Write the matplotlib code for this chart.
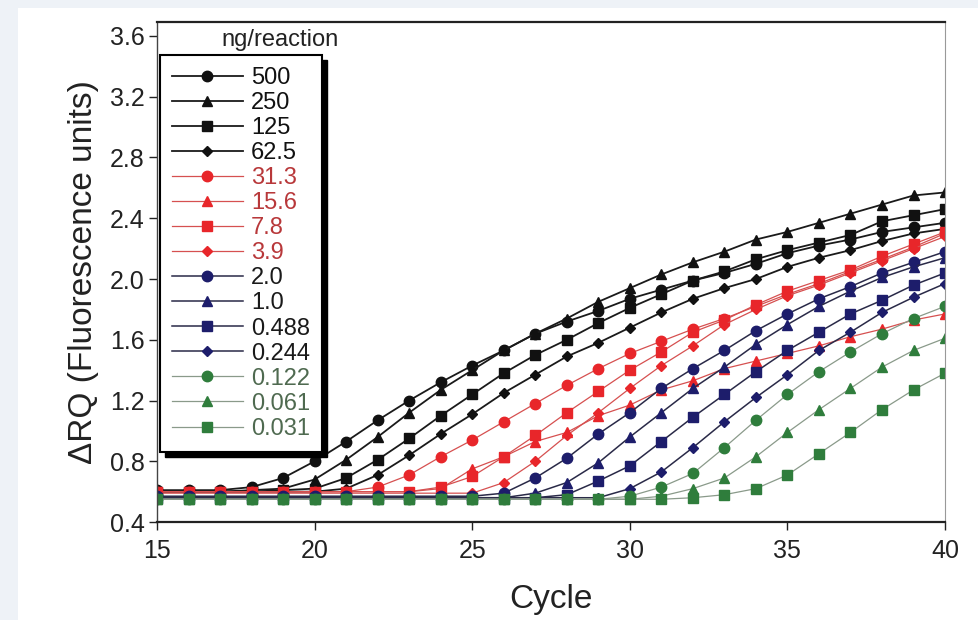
import matplotlib
matplotlib.use('Agg')
import matplotlib.pyplot as plt
from matplotlib.patches import Rectangle
from matplotlib.transforms import IdentityTransform

plt.rcParams['font.family'] = ['Liberation Sans', 'DejaVu Sans']

cycles = list(range(15, 41))

labels = ['500', '250', '125', '62.5', '31.3', '15.6', '7.8', '3.9',
          '2.0', '1.0', '0.488', '0.244', '0.122', '0.061', '0.031']

s500 = [0.61, 0.61, 0.61, 0.63, 0.69, 0.80, 0.93, 1.07, 1.20, 1.32, 1.43, 1.53, 1.64,
        1.72, 1.79, 1.87, 1.93, 1.99, 2.04, 2.10, 2.17, 2.22, 2.26, 2.31, 2.34, 2.37]
s250 = [0.60, 0.60, 0.60, 0.61, 0.62, 0.68, 0.81, 0.96, 1.12, 1.27, 1.40, 1.53, 1.64,
        1.74, 1.85, 1.94, 2.03, 2.11, 2.18, 2.26, 2.31, 2.37, 2.43, 2.49, 2.55, 2.57]
s125 = [0.60, 0.60, 0.60, 0.60, 0.61, 0.62, 0.69, 0.81, 0.95, 1.10, 1.24, 1.38, 1.50,
        1.60, 1.71, 1.81, 1.90, 1.99, 2.05, 2.13, 2.19, 2.24, 2.29, 2.38, 2.42, 2.46]
s62 = [0.60, 0.60, 0.60, 0.60, 0.60, 0.60, 0.62, 0.71, 0.84, 0.98, 1.11, 1.25, 1.37,
       1.49, 1.58, 1.68, 1.78, 1.87, 1.94, 2.00, 2.08, 2.14, 2.19, 2.25, 2.30, 2.33]
r31 = [0.60, 0.60, 0.60, 0.60, 0.60, 0.60, 0.60, 0.63, 0.71, 0.83, 0.94, 1.06, 1.18,
       1.30, 1.41, 1.51, 1.59, 1.67, 1.74, 1.82, 1.90, 1.97, 2.05, 2.13, 2.21, 2.30]
r15 = [0.60, 0.60, 0.60, 0.60, 0.60, 0.60, 0.60, 0.60, 0.60, 0.62, 0.75, 0.83, 0.93,
       0.99, 1.10, 1.17, 1.27, 1.33, 1.41, 1.46, 1.51, 1.56, 1.62, 1.67, 1.73, 1.77]
r7 = [0.60, 0.60, 0.60, 0.60, 0.60, 0.60, 0.60, 0.60, 0.60, 0.63, 0.70, 0.83, 0.97,
      1.12, 1.26, 1.40, 1.52, 1.65, 1.73, 1.83, 1.92, 1.99, 2.06, 2.15, 2.23, 2.31]
r3 = [0.59, 0.59, 0.59, 0.59, 0.59, 0.59, 0.59, 0.59, 0.59, 0.59, 0.59, 0.66, 0.80,
      0.97, 1.12, 1.28, 1.43, 1.56, 1.70, 1.80, 1.89, 1.96, 2.04, 2.12, 2.20, 2.28]
n2 = [0.57, 0.57, 0.57, 0.57, 0.57, 0.57, 0.57, 0.57, 0.57, 0.57, 0.57, 0.59, 0.69,
      0.82, 0.98, 1.12, 1.28, 1.41, 1.53, 1.66, 1.77, 1.87, 1.95, 2.04, 2.11, 2.18]
n1 = [0.56, 0.56, 0.56, 0.56, 0.56, 0.56, 0.56, 0.56, 0.56, 0.56, 0.56, 0.56, 0.59,
      0.66, 0.79, 0.96, 1.12, 1.28, 1.42, 1.57, 1.70, 1.82, 1.92, 2.01, 2.08, 2.14]
n488 = [0.56, 0.56, 0.56, 0.56, 0.56, 0.56, 0.56, 0.56, 0.56, 0.56, 0.56, 0.56, 0.56,
        0.58, 0.67, 0.77, 0.93, 1.09, 1.24, 1.39, 1.53, 1.65, 1.77, 1.86, 1.96, 2.04]
n244 = [0.56, 0.56, 0.56, 0.56, 0.56, 0.56, 0.56, 0.56, 0.56, 0.56, 0.56, 0.56, 0.56,
        0.56, 0.56, 0.62, 0.73, 0.89, 1.06, 1.22, 1.37, 1.53, 1.65, 1.78, 1.88, 1.97]
g122 = [0.55, 0.55, 0.55, 0.55, 0.55, 0.55, 0.55, 0.55, 0.55, 0.55, 0.55, 0.55, 0.55,
        0.55, 0.55, 0.57, 0.63, 0.72, 0.89, 1.07, 1.24, 1.39, 1.52, 1.64, 1.74, 1.82]
g061 = [0.55, 0.55, 0.55, 0.55, 0.55, 0.55, 0.55, 0.55, 0.55, 0.55, 0.55, 0.55, 0.55,
        0.55, 0.55, 0.55, 0.57, 0.62, 0.69, 0.83, 0.99, 1.14, 1.28, 1.42, 1.53, 1.61]
g031 = [0.55, 0.55, 0.55, 0.55, 0.55, 0.55, 0.55, 0.55, 0.55, 0.55, 0.55, 0.55, 0.55,
        0.55, 0.55, 0.55, 0.55, 0.56, 0.58, 0.62, 0.71, 0.85, 0.99, 1.14, 1.27, 1.38]

series = [s500, s250, s125, s62, r31, r15, r7, r3, n2, n1, n488, n244, g122, g061, g031]

# style per group: black, red, navy, green
markers = ['o', '^', 's', 'D'] * 3 + ['o', '^', 's']
msizes = {'o': 7.5, '^': 7.5, 's': 7.3, 'D': 4.8}
mcol = ['#111111'] * 4 + ['#e8262a'] * 4 + ['#1d1d6b'] * 4 + ['#2f7d3c'] * 3
lcol = ['#1a1a1a'] * 4 + ['#d65050'] * 4 + ['#2a2a48'] * 4 + ['#8a9a8a'] * 3
lw = [1.3] * 4 + [0.9] * 4 + [1.1] * 4 + [0.9] * 3
tcol = ['#111111'] * 4 + ['#b8383a'] * 4 + ['#1a1a1a'] * 4 + ['#4f6a50'] * 3

fig = plt.figure(figsize=(9.79, 6.2), dpi=100)
# pale page margin on the left and top of the scan
fig.patches.append(Rectangle((0, 0), 18 / 979, 1, transform=fig.transFigure,
                             facecolor='#eef2f7', edgecolor='none', zorder=-10))
fig.patches.append(Rectangle((0, 1 - 8 / 620), 1, 8 / 620, transform=fig.transFigure,
                             facecolor='#eef2f7', edgecolor='none', zorder=-10))
ax = fig.add_axes([0.1604, 0.158, 0.8049, 0.8065])

for i in range(len(series)):
    ax.plot(cycles, series[i], color=lcol[i], lw=lw[i], marker=markers[i],
            ms=msizes[markers[i]], mfc=mcol[i], mec=mcol[i], label=labels[i])

ax.set_xlim(15, 40)
ax.set_ylim(0.4, 3.692)
ax.set_xticks([15, 20, 25, 30, 35, 40])
ax.set_yticks([0.4, 0.8, 1.2, 1.6, 2.0, 2.4, 2.8, 3.2, 3.6])
ax.tick_params(direction='out', length=6, width=1, labelsize=18, colors='#222222')
ax.tick_params(axis='x', pad=6)
ax.tick_params(axis='y', pad=3)
for side in ['top', 'bottom']:
    ax.spines[side].set_linewidth(1.6)
    ax.spines[side].set_color('#222222')
ax.spines['left'].set_linewidth(1.0)
ax.spines['left'].set_color('#444444')
ax.spines['right'].set_linewidth(0.8)
ax.spines['right'].set_color('#999999')

ax.set_xlabel('Cycle', fontsize=24, labelpad=15, color='#222222')
ax.set_ylabel('\u0394RQ (Fluorescence units)', fontsize=24, labelpad=8, color='#222222')

leg = ax.legend(loc='upper left', bbox_to_anchor=(0.004, 0.934), borderaxespad=0,
                fontsize=17, handlelength=3.0, handletextpad=0.35, labelspacing=0.13,
                borderpad=0.5, fancybox=False, frameon=True, framealpha=1.0)
leg.get_frame().set_edgecolor('black')
leg.get_frame().set_facecolor('white')
leg.get_frame().set_linewidth(1.5)
for t, c in zip(leg.get_texts(), tcol):
    t.set_color(c)

ax.text(0.082, 0.964, 'ng/reaction', transform=ax.transAxes, fontsize=17,
        va='center', ha='left', color='#222222')

# heavy drop shadow on the right and bottom of the legend box
fig.canvas.draw()
bb = leg.get_window_extent()
ax.add_patch(Rectangle((bb.x0 + 5, bb.y0 - 5), bb.width, bb.height,
                       transform=IdentityTransform(), facecolor='black',
                       edgecolor='black', zorder=4.9))

plt.savefig('out.png', dpi=100)
